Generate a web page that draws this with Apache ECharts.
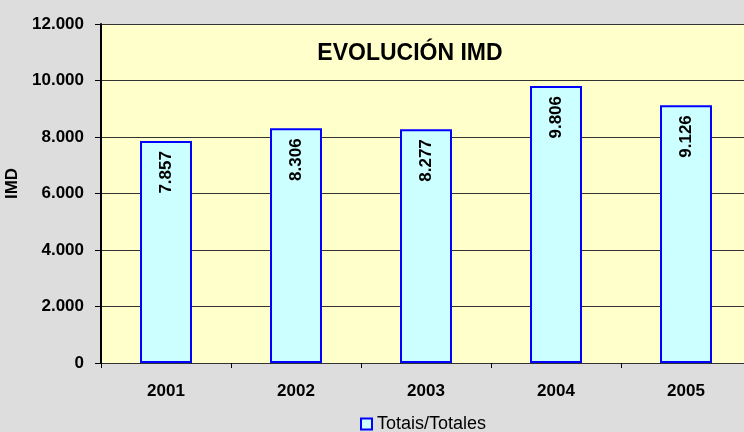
<!DOCTYPE html>
<html><head><meta charset="utf-8">
<script src="https://cdn.jsdelivr.net/npm/echarts@6/dist/echarts.min.js"></script>
<style>html,body{margin:0;padding:0;background:#dddddd}#c{width:744px;height:432px}</style>
</head><body><div id="c"></div>
<script>
var categories = ['2001','2002','2003','2004','2005'];
var values = [7857, 8306, 8277, 9806, 9126];
var seriesName = 'Totais/Totales';
var titleText = 'EVOLUCIÓN IMD';
var yName = 'IMD';
function fmt(v){ return String(v).replace(/\B(?=(\d{3})+(?!\d))/g,'.'); }
var FF = 'Liberation Sans, Arial, sans-serif';
var chart = echarts.init(document.getElementById('c'));
chart.setOption({
  backgroundColor:'#dddddd',
  animation:false,
  title:{text:titleText,left:405,top:37,textAlign:'center',textStyle:{fontFamily:FF,fontWeight:'bold',fontSize:23,color:'#000'}},
  legend:{left:360,top:415,padding:0,itemWidth:11,itemHeight:11,itemGap:4,
    textStyle:{fontFamily:FF,fontSize:18,color:'#000'},
    data:[{name:seriesName,icon:'rect',itemStyle:{color:'#ccffff',borderColor:'#0000ff',borderWidth:2}}]},
  grid:{left:101,top:24,width:650,bottom:69,outerBoundsMode:'none',containLabel:false,show:true,backgroundColor:'#ffffcc',borderWidth:0},
  xAxis:{type:'category',data:categories,
    axisLine:{show:false},
    axisTick:{show:true,length:5,lineStyle:{color:'#000',width:1}},
    axisLabel:{margin:20,fontFamily:FF,fontWeight:'bold',fontSize:17,color:'#000'}},
  yAxis:{type:'value',min:0,max:12000,interval:2000,name:yName,nameLocation:'middle',nameGap:74,nameRotate:90,
    nameTextStyle:{fontFamily:FF,fontWeight:'bold',fontSize:17,color:'#000',padding:[0,0,0,20]},
    axisLine:{show:true,lineStyle:{color:'#000',width:2}},
    axisTick:{show:true,length:6,lineStyle:{color:'#000',width:1}},
    axisLabel:{margin:17,formatter:fmt,fontFamily:FF,fontWeight:'bold',fontSize:17,color:'#000'},
    splitLine:{show:true,lineStyle:{color:'#333',width:1}}},
  series:[{name:seriesName,type:'bar',data:values,barWidth:'40%',
    itemStyle:{color:'#ccffff',borderColor:'#0000ff',borderWidth:2},
    label:{show:true,position:'insideTop',rotate:90,align:'right',verticalAlign:'middle',distance:10,
      formatter:function(p){return fmt(p.value);},
      fontFamily:FF,fontWeight:'bold',fontSize:17,color:'#000'}}]
});
</script></body></html>
